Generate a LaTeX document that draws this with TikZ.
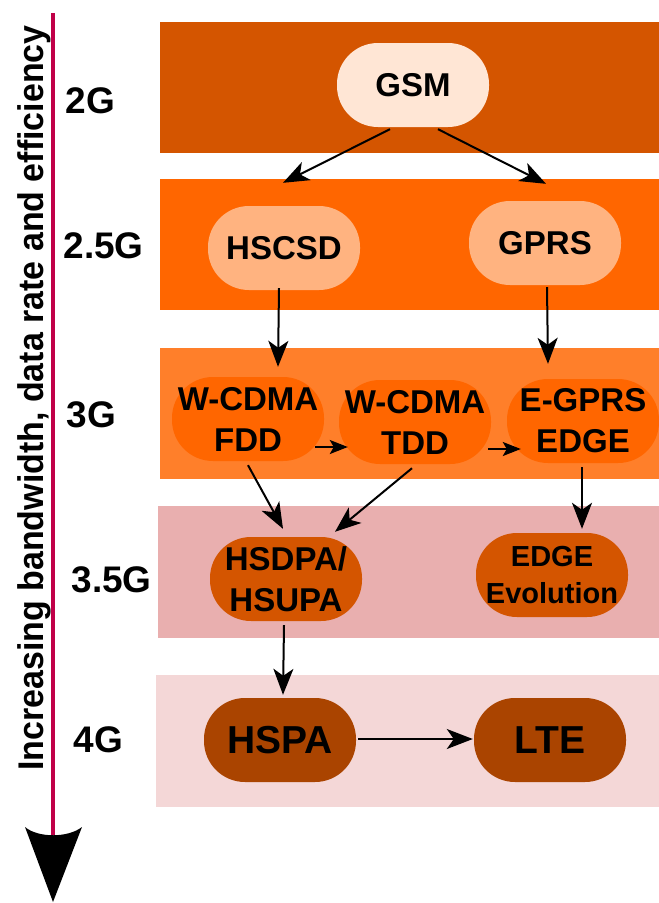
\documentclass[tikz,border=0pt]{standalone}
\usepackage{fontspec}
\setmainfont{Liberation Sans}
\usetikzlibrary{arrows.meta}
\definecolor{bandA}{HTML}{D45500}
\definecolor{bandB}{HTML}{FF6600}
\definecolor{bandC}{HTML}{FF7F2A}
\definecolor{bandD}{HTML}{E9AFAF}
\definecolor{bandE}{HTML}{F4D7D7}
\definecolor{nodeA}{HTML}{FFE6D5}
\definecolor{nodeB}{HTML}{FFB380}
\definecolor{nodeC}{HTML}{FF6600}
\definecolor{nodeD}{HTML}{D45500}
\definecolor{nodeE}{HTML}{AA4400}
\definecolor{axiscol}{HTML}{C00048}
\begin{document}
\begin{tikzpicture}[x=1pt,y=-1pt,
  nd/.style={rectangle, rounded corners=41pt, minimum width=152pt, minimum height=84pt,
    inner sep=0pt, align=center, font=\bfseries\fontsize{33}{41}\selectfont},
  lvl/.style={anchor=west, font=\bfseries\fontsize{37}{40}\selectfont},
  arr/.style={line width=2pt, -{Stealth[length=26pt,width=20pt,inset=7pt]}},
  sarr/.style={line width=2pt, -{Stealth[length=18pt,width=14pt,inset=4pt]}},
  axisline/.style={line width=4.5pt, axiscol}]
\useasboundingbox (0,0) rectangle (659,903);
% bands
\fill[bandA] (160,22) rectangle (659,153);
\fill[bandB] (160,179) rectangle (659,310);
\fill[bandC] (160,348) rectangle (659,479);
\fill[bandD] (158,506) rectangle (659,638);
\fill[bandE] (156,675) rectangle (659,807);
% axis
\coordinate (axtop) at (53,13);
\coordinate (axend) at (53,835);
\coordinate (axtip) at (53,902);
\draw[axisline] (axtop) -- (axend);
\fill[black] (axtip) -- (25,827) .. controls (38,838) and (68,838) .. (82,827) -- cycle;
\node[rotate=90, anchor=base, font=\bfseries\fontsize{35}{40}\selectfont] (axlabel) at (43,398)
  {\scalebox{0.97}[1.02]{Increasing bandwidth, data rate and efficiency}};
% level labels
\node[lvl] (l2) at (62,101) {2G};
\node[lvl] (l25) at (60,246) {2.5G};
\node[lvl] (l3) at (63,415) {3G};
\node[lvl] (l35) at (68,580) {3.5G};
\node[lvl] (l4) at (70,740) {4G};
% nodes
\node[nd, fill=nodeA] (gsm) at (413,85) {GSM};
\node[nd, fill=nodeB] (hscsd) at (284,248) {HSCSD};
\node[nd, fill=nodeB] (gprs) at (545,243) {GPRS};
\node[nd, fill=nodeC] (fdd) at (248,419) {W-CDMA\\FDD};
\node[nd, fill=nodeC] (tdd) at (415,422) {W-CDMA\\TDD};
\node[nd, fill=nodeC] (egprs) at (583,421) {E-GPRS\\EDGE};
\node[nd, fill=nodeD] (hsdpa) at (286,579) {HSDPA/\\HSUPA};
\node[nd, fill=nodeD, font=\bfseries\fontsize{29}{37}\selectfont] (evo) at (552,575) {EDGE\\Evolution};
\node[nd, fill=nodeE, font=\bfseries\fontsize{39}{44}\selectfont] (hspa) at (280,740) {HSPA};
\node[nd, fill=nodeE, font=\bfseries\fontsize{39}{44}\selectfont] (lte) at (550,740) {LTE};
% connectors
\draw[arr] ([xshift=-23pt,yshift=-2pt]gsm.south) -- ([xshift=-1pt,yshift=23pt]hscsd.north);
\draw[arr] ([xshift=25pt,yshift=-2pt]gsm.south) -- ([xshift=1pt,yshift=17pt]gprs.north);
\draw[arr] ([xshift=-5pt,yshift=2pt]hscsd.south) -- ([xshift=30pt,yshift=10pt]fdd.north);
\draw[arr] ([xshift=2pt,yshift=-2pt]gprs.south) -- ([xshift=-35pt,yshift=15pt]egprs.north);
\draw[sarr] ([xshift=-9pt,yshift=-28pt]fdd.east) -- ([xshift=9pt,yshift=-25pt]tdd.west);
\draw[sarr] ([xshift=-3pt,yshift=-27pt]tdd.east) -- ([xshift=14pt,yshift=-28pt]egprs.west);
\draw[arr] ([yshift=-4pt]fdd.south) -- ([xshift=-3pt,yshift=8pt]hsdpa.north);
\draw[arr] ([xshift=-3pt,yshift=-4pt]tdd.south) -- ([xshift=49pt,yshift=5pt]hsdpa.north);
\draw[arr] ([xshift=-1pt,yshift=-4pt]egprs.south) -- ([xshift=30pt,yshift=4pt]evo.north);
\draw[arr] ([xshift=-2pt,yshift=-4pt]hsdpa.south) -- ([xshift=3pt,yshift=3pt]hspa.north);
\draw[arr] ([xshift=2pt,yshift=1pt]hspa.east) -- ([xshift=-1pt,yshift=1pt]lte.west);
\end{tikzpicture}
\end{document}
